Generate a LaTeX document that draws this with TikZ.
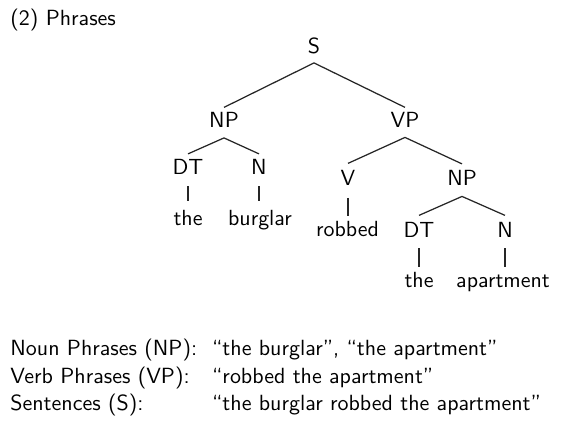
\documentclass[tikz,border=0pt]{standalone}
\usetikzlibrary{calc}
\newcommand\treefont{\fontsize{10.57}{12.5}\selectfont\sffamily}
\newcommand\bodyfont{\fontsize{10.6}{13}\selectfont\sffamily}
\tikzset{
  lbl/.style={font=\treefont, inner sep=0pt, text height=7.34pt, text depth=0pt, anchor=base},
  txt/.style={font=\bodyfont, inner sep=0pt, anchor=base west},
  edge/.style={line width=0.6pt, draw=black!85},
}
\begin{document}
\begin{tikzpicture}[x=0.4824pt, y=-0.4824pt]
\useasboundingbox (0,0) rectangle (564,424);
\node[txt] (title) at (10,25) {(2) Phrases};
% tree labels
\node[lbl] (S)   at (314,53)  {S};
\node[lbl] (NP)  at (224,127) {NP};
\node[lbl] (VP)  at (405,127) {VP};
\node[lbl] (DT)  at (188,174) {DT};
\node[lbl] (N)   at (259,174) {N};
\node[lbl] (w1)  at (188,225) {the};
\node[lbl] (w2)  at (260,225) {burglar};
\node[lbl] (V)   at (348,185.5) {V};
\node[lbl] (NPb) at (462,185.5) {NP};
\node[lbl] (w3)  at (347.5,236) {robbed};
\node[lbl] (DTb) at (419,237) {DT};
\node[lbl] (Nb)  at (505,237) {N};
\node[lbl] (w4)  at (419,287) {the};
\node[lbl] (w5)  at (503,287) {apartment};
% branches
\draw[edge] ([shift={(0,9.5)}]S.south) -- ([shift={(0,-4)}]NP.north);
\draw[edge] ([shift={(0,9.5)}]S.south) -- ([shift={(0,-4)}]VP.north);
\draw[edge] ([shift={(0,10.5)}]NP.south) -- ([shift={(0,-4.5)}]DT.north);
\draw[edge] ([shift={(0,10.5)}]NP.south) -- ([shift={(0,-4.5)}]N.north);
\draw[edge] ([shift={(0,10)}]VP.south) -- ([shift={(0,-6.5)}]V.north);
\draw[edge] ([shift={(0,10)}]VP.south) -- ([shift={(0,-6)}]NPb.north);
\draw[edge] ([shift={(0,10.5)}]NPb.south) -- ([shift={(0,-6)}]DTb.north);
\draw[edge] ([shift={(0,10.5)}]NPb.south) -- ([shift={(0,-6)}]Nb.north);
% leaves
\draw[edge] ([shift={(0,12)}]DT.south) -- ($(DT.south |- w1.north)+(0,-8.5)$);
\draw[edge] ([shift={(0,12)}]N.south) -- ($(N.south |- w2.north)+(0,-8.5)$);
\draw[edge] ([shift={(0,12)}]V.south) -- ($(V.south |- w3.north)+(0,-4.5)$);
\draw[edge] ([shift={(0,11)}]DTb.south) -- ($(DTb.south |- w4.north)+(0,-4.5)$);
\draw[edge] ([shift={(0,11)}]Nb.south) -- ($(Nb.south |- w5.north)+(0,-4.5)$);
% bottom text
\node[txt] (l1) at (10,355) {Noun Phrases (NP):};
\node[txt] (r1) at (211.7,355) {“the burglar”, “the apartment”};
\node[txt] (l2) at (10,383) {Verb Phrases (VP):};
\node[txt] (r2) at (211.7,383) {“robbed the apartment”};
\node[txt] (l3) at (10,410) {Sentences (S):};
\node[txt] (r3) at (211.7,410) {“the burglar robbed the apartment”};
\end{tikzpicture}
\end{document}
